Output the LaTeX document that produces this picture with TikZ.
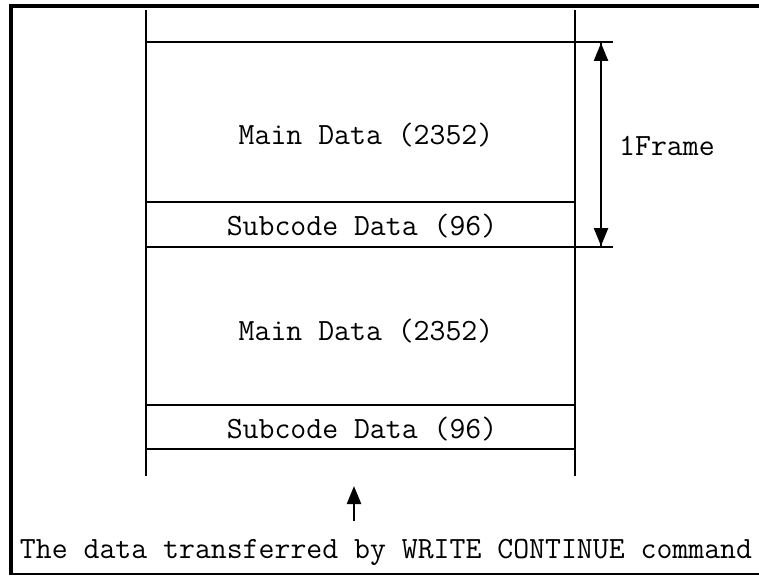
\documentclass[tikz,border=0pt]{standalone}
\usetikzlibrary{arrows.meta}
\tikzset{
  lbl/.style={font=\ttfamily\fontsize{30.9}{32}\selectfont,inner sep=0pt},
  rule/.style={line width=2.5pt},
  tip/.style={line width=2.5pt,-{Triangle[width=14pt,length=18pt]}}
}
\begin{document}
\begin{tikzpicture}[x=1pt,y=-1pt]
\useasboundingbox(0,0)rectangle(759,575);
% frame
\draw[line width=4pt](11,575)--(11,6)--(759,6);
\draw[line width=2pt](11,574)--(759,574);
% columns
\coordinate(LT)at(146,10);\coordinate(LB)at(146,476);
\coordinate(RT)at(575,10);\coordinate(RB)at(575,476);
\draw[rule](LT)--(LB)(RT)--(RB);
% rows
\coordinate(A)at(146,42);\coordinate(A1)at(613,42);
\coordinate(B)at(146,202);\coordinate(B1)at(575,202);
\coordinate(C)at(146,247);\coordinate(C1)at(613,247);
\coordinate(D)at(146,405);\coordinate(D1)at(575,405);
\coordinate(E)at(146,449);\coordinate(E1)at(575,449);
\draw[rule](A)--(A1)(B)--(B1)(C)--(C1)(D)--(D1)(E)--(E1);
\node[lbl](main1)at(366,135){Main Data (2352)};
\node[lbl](sub1)at(362,226){Subcode Data (96)};
\node[lbl](main2)at(366,331){Main Data (2352)};
\node[lbl](sub2)at(362,429){Subcode Data (96)};
% frame arrow
\coordinate(F1)at(601,43);\coordinate(F2)at(601,246);
\draw[tip](F2)--(F1);
\draw[tip](F1)--(F2);
\node[lbl,anchor=west](frm)at(619,146){1Frame};
% bottom
\node[lbl](cmd)at(386,552){The data transferred by WRITE CONTINUE command};
\coordinate(T1)at(354,521);\coordinate(T2)at(354,486);
\draw[tip](T1)--(T2);
\end{tikzpicture}
\end{document}
